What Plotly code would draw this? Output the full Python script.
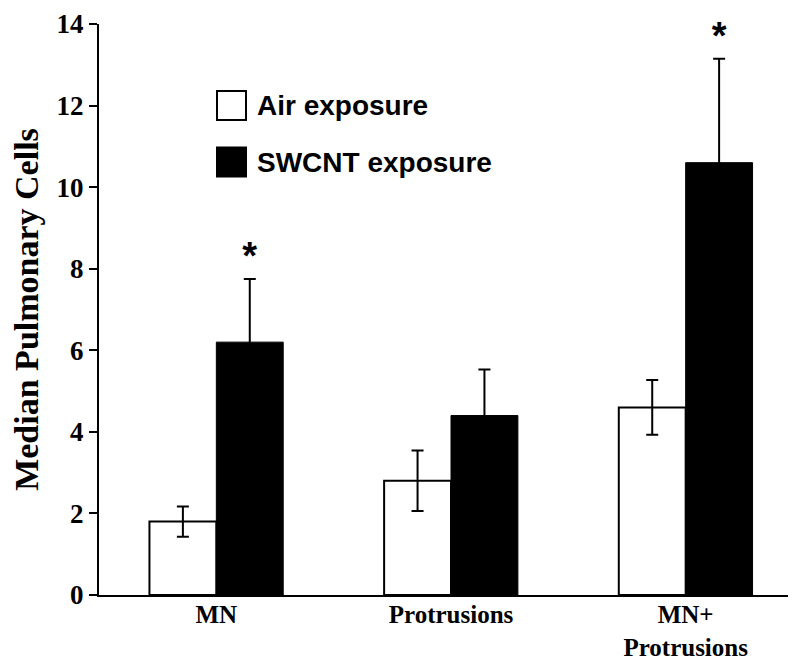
import plotly.graph_objects as go

categories = ["MN", "Protrusions", "MN+<br>Protrusions"]
air_values = [1.8, 2.8, 4.6]
air_errors = [0.37, 0.74, 0.67]
swcnt_values = [6.2, 4.4, 10.6]
swcnt_errors = [1.55, 1.13, 2.55]
significant = [True, False, True]
y_ticks = [0, 2, 4, 6, 8, 10, 12, 14]

serif = "Liberation Serif, Times New Roman, serif"
sans = "Liberation Sans, Arial, sans-serif"

L, R, T, B = 91, 1, 16, 77
W, H = 796, 664
PW, PH = W - L - R, H - T - B

fig = go.Figure()
fig.add_trace(go.Bar(
    x=categories, y=air_values, name="Air exposure",
    marker=dict(color="white", line=dict(color="black", width=2)),
    error_y=dict(type="data", array=air_errors, visible=True,
                 color="black", thickness=2, width=6),
    offsetgroup="air", showlegend=False,
))
fig.add_trace(go.Bar(
    x=categories, y=swcnt_values, name="SWCNT exposure",
    marker=dict(color="black", line=dict(color="black", width=1)),
    error_y=dict(type="data", array=swcnt_errors, visible=True,
                 color="black", thickness=2, width=6),
    offsetgroup="swcnt", showlegend=False,
))

# significance asterisks above SWCNT error bars
star_x = [c for c, s in zip(categories, significant) if s]
star_y = [v + e for v, e, s in zip(swcnt_values, swcnt_errors, significant) if s]
fig.add_trace(go.Scatter(
    x=star_x, y=star_y, mode="text", text=["<b>*</b>"] * len(star_x),
    textposition="top center",
    textfont=dict(family=sans, size=38, color="black"),
    offsetgroup="swcnt", showlegend=False, cliponaxis=False,
))

fig.update_layout(
    width=W, height=H,
    margin=dict(l=L, r=R, t=T, b=B),
    plot_bgcolor="white", paper_bgcolor="white",
    barmode="group", bargap=0.43, bargroupgap=0,
    scattermode="group",
    showlegend=False,
)
fig.update_xaxes(
    range=[-0.5, 2.5], showline=True, linecolor="black", linewidth=2,
    ticks="", showgrid=False, zeroline=False,
    tickvals=categories, ticktext=[f"<b>{c}</b>" for c in categories],
    tickfont=dict(family=serif, size=25, color="black"),
    ticklabelstandoff=-4,
)
fig.update_yaxes(
    range=[0, 14], tickvals=y_ticks, ticktext=[f"<b>{t}</b>" for t in y_ticks],
    showline=True, linecolor="black", linewidth=2,
    ticks="outside", ticklen=8, tickwidth=2, tickcolor="black",
    showgrid=False, zeroline=False,
    tickfont=dict(family=serif, size=27, color="black"),
    title=dict(text="<b>Median Pulmonary Cells</b>",
               font=dict(family=serif, size=34, color="black"), standoff=8),
)

# manual legend
legend_items = [("Air exposure", "white"), ("SWCNT exposure", "black")]
for i, (label, color) in enumerate(legend_items):
    yc = 97.5 + i * 56.5
    fig.add_shape(type="rect", xref="paper", yref="paper",
                  x0=(209 - L) / PW, x1=(238 - L) / PW,
                  y0=1 - (yc + 14.5 - T) / PH, y1=1 - (yc - 14.5 - T) / PH,
                  line=dict(color="black", width=2), fillcolor=color)
    fig.add_annotation(xref="paper", yref="paper",
                       x=(247 - L) / PW, y=1 - (yc - T) / PH,
                       xanchor="left", yanchor="middle", showarrow=False,
                       text=f"<b>{label}</b>",
                       font=dict(family=sans, size=28, color="black"))

fig.write_html("out.html")
